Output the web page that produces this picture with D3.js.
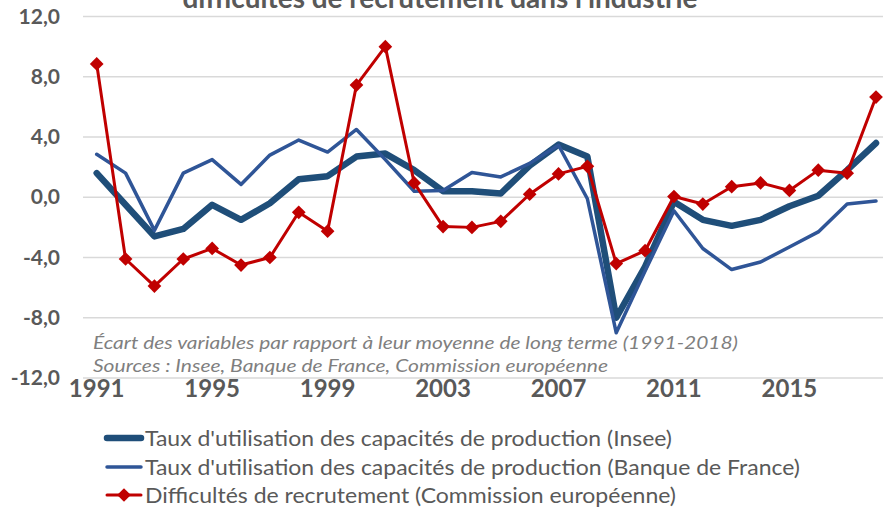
<!DOCTYPE html>
<html>
<head>
<meta charset="utf-8">
<script src="https://cdn.jsdelivr.net/npm/d3@7"></script>
<style>
  body { margin: 0; background: #fff; }
  svg { display: block; }
  text { font-family: Lato, "Open Sans", sans-serif; }
</style>
</head>
<body>
<svg id="chart" width="883" height="507"></svg>
<script>
// years 1991-2018
var years = d3.range(1991, 2019);
var yearTicks = [1991, 1995, 1999, 2003, 2007, 2011, 2015];
var yTicks = [12, 8, 4, 0, -4, -8, -12];

// Taux d'utilisation des capacités de production (Insee)
var insee = [1.6, -0.5, -2.6, -2.1, -0.5, -1.5, -0.4, 1.2, 1.4, 2.7, 2.9, 1.8, 0.4, 0.4, 0.25, 2.1, 3.5, 2.7,
             -8.0, -4.6, -0.3, -1.5, -1.9, -1.5, -0.6, 0.1, 1.8, 3.6];
// Taux d'utilisation des capacités de production (Banque de France)
var bdf = [2.85, 1.6, -2.2, 1.6, 2.5, 0.85, 2.8, 3.8, 3.0, 4.5, 2.5, 0.4, 0.45, 1.65, 1.35, 2.25, 3.45, -0.1,
           -9.0, -4.9, -0.9, -3.4, -4.8, -4.3, -3.3, -2.3, -0.45, -0.25];
// Difficultés de recrutement (Commission européenne)
var recrut = [8.85, -4.1, -5.9, -4.1, -3.4, -4.5, -4.0, -1.0, -2.25, 7.45, 10.0, 0.95, -1.95, -2.0, -1.6, 0.2, 1.55, 2.05,
              -4.4, -3.55, 0.05, -0.45, 0.7, 0.95, 0.45, 1.8, 1.6, 6.65];

var legendLabels = [
  "Taux d'utilisation des capacités de production (Insee)",
  "Taux d'utilisation des capacités de production (Banque de France)",
  "Difficultés de recrutement (Commission européenne)"
];
var legendWidths = [527, 655, 531];

var svg = d3.select("#chart");

var x = d3.scalePoint().domain(years).range([96.7, 876]);
var y = d3.scaleLinear().domain([-12, 12]).range([378, 16.5]);

// title (only the bottom of it is visible)
svg.append("text")
  .attr("x", 440).attr("y", 8)
  .attr("text-anchor", "middle")
  .attr("font-size", 28).attr("font-weight", "bold")
  .attr("fill", "#595959")
  .attr("textLength", 515).attr("lengthAdjust", "spacingAndGlyphs")
  .text("difficultés de recrutement dans l'industrie");

// gridlines
svg.append("g").selectAll("line")
  .data(yTicks).enter().append("line")
  .attr("x1", 83).attr("x2", 883)
  .attr("y1", function (d) { return y(d); })
  .attr("y2", function (d) { return y(d); })
  .attr("stroke", "#d9d9d9").attr("stroke-width", 1.5);

// y labels
svg.append("g").selectAll("text")
  .data(yTicks).enter().append("text")
  .attr("x", 60).attr("y", function (d) { return y(d) + 7; })
  .attr("text-anchor", "end")
  .attr("font-size", 21).attr("font-weight", "bold")
  .attr("fill", "#595959")
  .text(function (d) { return d3.format(".1f")(d).replace(".", ",").replace("−", "-"); });

// notes
svg.append("text")
  .attr("x", 93).attr("y", 349)
  .attr("font-size", 17).attr("font-style", "italic")
  .attr("fill", "#7f7f7f")
  .attr("textLength", 645).attr("lengthAdjust", "spacingAndGlyphs")
  .text("Écart des variables par rapport à leur moyenne de long terme (1991-2018)");
svg.append("text")
  .attr("x", 93).attr("y", 372)
  .attr("font-size", 17).attr("font-style", "italic")
  .attr("fill", "#7f7f7f")
  .attr("textLength", 515).attr("lengthAdjust", "spacingAndGlyphs")
  .text("Sources : Insee, Banque de France, Commission européenne");

// x labels
svg.append("g").selectAll("text")
  .data(yearTicks).enter().append("text")
  .attr("x", function (d) { return x(d); }).attr("y", 397)
  .attr("text-anchor", "middle")
  .attr("font-size", 24).attr("font-weight", "bold")
  .attr("fill", "#595959")
  .text(function (d) { return d; });

var line = d3.line()
  .x(function (d, i) { return x(years[i]); })
  .y(function (d) { return y(d); });

var series = [
  { values: insee, color: "#1f4e79", width: 6.5 },
  { values: bdf, color: "#2f5597", width: 3.5 },
  { values: recrut, color: "#c00000", width: 3 }
];

series.forEach(function (s) {
  svg.append("path")
    .datum(s.values)
    .attr("d", line)
    .attr("fill", "none")
    .attr("stroke", s.color)
    .attr("stroke-width", s.width)
    .attr("stroke-linejoin", "round")
    .attr("stroke-linecap", "round");
});

var diamond = d3.symbol().type(d3.symbolDiamond2).size(120);
svg.append("g").selectAll("path")
  .data(recrut).enter().append("path")
  .attr("d", diamond)
  .attr("transform", function (d, i) { return "translate(" + x(years[i]) + "," + y(d) + ")"; })
  .attr("fill", "#c00000");

// legend
var legend = svg.append("g");
var legendY = [438, 467, 495];
series.forEach(function (s, i) {
  var g = legend.append("g");
  g.append("line")
    .attr("x1", 107).attr("x2", 141)
    .attr("y1", legendY[i]).attr("y2", legendY[i])
    .attr("stroke", s.color).attr("stroke-width", s.width)
    .attr("stroke-linecap", "round");
  if (i === 2) {
    g.append("path")
      .attr("d", diamond)
      .attr("transform", "translate(124," + legendY[i] + ")")
      .attr("fill", s.color);
  }
  g.append("text")
    .attr("x", 145).attr("y", legendY[i] + 7.5)
    .attr("font-size", 22)
    .attr("fill", "#595959")
    .attr("textLength", legendWidths[i]).attr("lengthAdjust", "spacingAndGlyphs")
    .text(legendLabels[i]);
});
</script>
</body>
</html>
